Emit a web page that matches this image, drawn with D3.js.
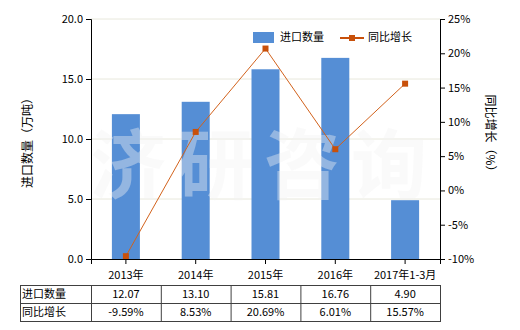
<!DOCTYPE html>
<html>
<head>
<meta charset="utf-8">
<script src="https://cdn.jsdelivr.net/npm/d3@7"></script>
<style>
  body { margin: 0; background: #fff; }
  svg text { font-family: "Noto Sans CJK SC", "Noto Sans", sans-serif; }
</style>
</head>
<body>
<div id="chart"></div>
<script>
const categories = ['2013年', '2014年', '2015年', '2016年', '2017年1-3月'];
const quantity = [12.07, 13.10, 15.81, 16.76, 4.90];
const growth = [-9.59, 8.53, 20.69, 6.01, 15.57];
const leftTicks = [0, 5, 10, 15, 20];
const rightTicks = [-10, -5, 0, 5, 10, 15, 20, 25];
const seriesNames = ['进口数量', '同比增长'];

const W = 520, H = 330;
const m = { left: 91, right: 440, top: 19, bottom: 259 };
const barColor = '#558ed5';
const lineColor = '#d2621c';
const markColor = '#c8500a';

const svg = d3.select('#chart').append('svg').attr('width', W).attr('height', H);

const x = d3.scaleBand().domain(categories).range([m.left, m.right]);
const yL = d3.scaleLinear().domain([0, 20]).range([m.bottom, m.top]);
const yR = d3.scaleLinear().domain([-10, 25]).range([m.bottom, m.top]);

// gridlines
svg.append('g').selectAll('line').data(leftTicks.filter(d => d > 0)).join('line')
  .attr('x1', m.left).attr('x2', m.right)
  .attr('y1', d => yL(d)).attr('y2', d => yL(d))
  .attr('stroke', '#e8e8dc').attr('stroke-width', 1);

// bars
const bw = 28;
svg.append('g').selectAll('rect').data(quantity).join('rect')
  .attr('x', (d, i) => x(categories[i]) + x.bandwidth() / 2 - bw / 2)
  .attr('y', d => yL(d))
  .attr('width', bw)
  .attr('height', d => m.bottom - yL(d))
  .attr('fill', barColor);

// watermark
svg.append('g').selectAll('text').data(['济', '研', '咨', '询']).join('text')
  .attr('x', (d, i) => 128 + i * 87)
  .attr('y', 193)
  .attr('text-anchor', 'middle')
  .attr('font-size', 76)
  .attr('font-weight', 'bold')
  .attr('fill', '#f3f3f3')
  .attr('fill-opacity', 0.4)
  .text(d => d);

// line
const line = d3.line().x((d, i) => x(categories[i]) + x.bandwidth() / 2).y(d => yR(d));
svg.append('path').datum(growth).attr('d', line)
  .attr('fill', 'none').attr('stroke', lineColor).attr('stroke-width', 1);
svg.append('g').selectAll('rect').data(growth).join('rect')
  .attr('x', (d, i) => x(categories[i]) + x.bandwidth() / 2 - 3)
  .attr('y', d => yR(d) - 3)
  .attr('width', 6).attr('height', 6)
  .attr('fill', markColor);

// axes
const axL = svg.append('g').attr('transform', `translate(${m.left},0)`)
  .call(d3.axisLeft(yL).tickValues(leftTicks).tickFormat(d3.format('.1f')).tickSizeOuter(0).tickSize(5));
const axR = svg.append('g').attr('transform', `translate(${m.right},0)`)
  .call(d3.axisRight(yR).tickValues(rightTicks).tickFormat(d => d + '%').tickSizeOuter(0).tickSize(5));
const axB = svg.append('g').attr('transform', `translate(0,${m.bottom})`)
  .call(d3.axisBottom(x).tickSizeOuter(0).tickSize(5));
[axL, axR, axB].forEach(a => {
  a.select('.domain').attr('stroke', '#000');
  a.selectAll('.tick line').attr('stroke', '#000');
  a.selectAll('.tick text').attr('font-size', 11).attr('fill', '#000')
    .style('font-family', '"Noto Sans CJK SC", sans-serif');
});
axB.selectAll('.tick text').attr('dy', '1.05em');

// axis titles
svg.append('text').attr('transform', 'translate(29,140) rotate(-90)')
  .attr('text-anchor', 'middle').attr('dominant-baseline', 'middle')
  .attr('font-size', 12).text('进口数量（万吨）');
svg.append('text').attr('transform', 'translate(489,136) rotate(90)')
  .attr('text-anchor', 'middle').attr('dominant-baseline', 'middle')
  .attr('font-size', 12).text('同比增长（%）');

// legend
const lg = svg.append('g');
lg.append('rect').attr('x', 253).attr('y', 32).attr('width', 21).attr('height', 11).attr('fill', barColor);
lg.append('text').attr('x', 280).attr('y', 38).attr('dominant-baseline', 'middle')
  .attr('font-size', 11).text(seriesNames[0]);
lg.append('line').attr('x1', 340).attr('x2', 364).attr('y1', 38).attr('y2', 38)
  .attr('stroke', markColor).attr('stroke-width', 2);
lg.append('rect').attr('x', 349).attr('y', 35).attr('width', 6).attr('height', 6).attr('fill', markColor);
lg.append('text').attr('x', 368).attr('y', 38).attr('dominant-baseline', 'middle')
  .attr('font-size', 11).text(seriesNames[1]);

// data table
const tY = [285, 303, 321];
const tX = [20, m.left, ...categories.map(c => x(c) + x.bandwidth())];
const tbl = svg.append('g').attr('stroke', '#404040').attr('stroke-width', 1);
tY.forEach(y => tbl.append('line').attr('x1', tX[0]).attr('x2', tX[tX.length - 1]).attr('y1', y + 0.5).attr('y2', y + 0.5));
tX.forEach(xx => tbl.append('line').attr('x1', xx + 0.5).attr('x2', xx + 0.5).attr('y1', tY[0]).attr('y2', tY[2] + 1));
const rows = [
  { label: seriesNames[0], vals: quantity.map(d => d.toFixed(2)) },
  { label: seriesNames[1], vals: growth.map(d => d.toFixed(2) + '%') }
];
rows.forEach((r, ri) => {
  const cy = (tY[ri] + tY[ri + 1]) / 2 + 1;
  svg.append('text').attr('x', 22).attr('y', cy).attr('dominant-baseline', 'middle')
    .attr('font-size', 11).text(r.label);
  r.vals.forEach((v, i) => {
    svg.append('text').attr('x', x(categories[i]) + x.bandwidth() / 2).attr('y', cy)
      .attr('text-anchor', 'middle').attr('dominant-baseline', 'middle')
      .attr('font-size', 11).text(v);
  });
});
</script>
</body>
</html>
